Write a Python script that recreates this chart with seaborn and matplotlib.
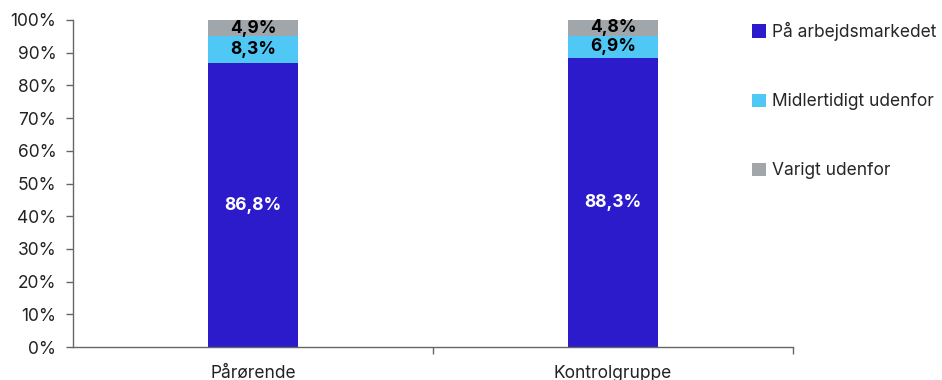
import matplotlib
matplotlib.use("Agg")
import matplotlib.pyplot as plt
import seaborn as sns
import numpy as np
import pandas as pd
from matplotlib.patches import Patch
from matplotlib.ticker import FixedLocator, PercentFormatter

categories = ["Pårørende", "Kontrolgruppe"]
series_names = ["På arbejdsmarkedet", "Midlertidigt udenfor", "Varigt udenfor"]
paa = [86.8, 88.3]
midl = [8.3, 6.9]
varigt = [4.9, 4.8]
colors = ["#2B1BCB", "#4FC8F5", "#A0A6A9"]
label_colors = ["white", "black", "black"]

sns.set_theme(style="white")
plt.rcParams['font.family'] = ['Inter', 'DejaVu Sans']

fig = plt.figure(figsize=(9.42, 3.8), dpi=100)
ax = fig.add_axes([73/942, 1-347/380, (793-73)/942, (347-20)/380])

series = [paa, midl, varigt]
cum = np.cumsum(np.array(series), axis=0)
# draw from top total down so lower segments overlay
for i in reversed(range(3)):
    df = pd.DataFrame({"cat": categories, "val": cum[i]})
    sns.barplot(data=df, x="cat", y="val", color=colors[i], width=0.25,
                saturation=1, ax=ax, edgecolor="none", linewidth=0)

for j in range(len(categories)):
    for i in range(3):
        bottom = cum[i][j] - series[i][j]
        mid = bottom + series[i][j] / 2
        ax.text(j, mid, f"{series[i][j]:.1f}%".replace(".", ","),
                ha="center", va="center", fontsize=12.5, fontweight="bold",
                color=label_colors[i])

ax.set_xlim(-0.5, 1.5)
ax.set_ylim(0, 100)
ax.set_xlabel("")
ax.set_ylabel("")
ax.yaxis.set_major_locator(FixedLocator(np.arange(0, 101, 10)))
ax.yaxis.set_major_formatter(PercentFormatter(decimals=0))
ax.xaxis.set_minor_locator(FixedLocator([0.5, 1.5]))
ax.tick_params(axis="x", which="major", length=0, pad=13, labelsize=12.5, colors="#222222")
ax.tick_params(axis="x", which="minor", length=5, width=1, color="#666666", direction="out", bottom=True)
ax.tick_params(axis="y", which="major", length=5, width=1, color="#666666", direction="out",
               left=True, labelsize=12.5, labelcolor="#222222", pad=7)
for s in ["top", "right"]:
    ax.spines[s].set_visible(False)
for s in ["left", "bottom"]:
    ax.spines[s].set_color("#666666")
    ax.spines[s].set_linewidth(1)

handles = [Patch(facecolor=c, edgecolor="none") for c in colors]
fig.legend(handles, series_names, loc="upper left", bbox_to_anchor=(752/942, 1-22/380),
           frameon=False, fontsize=12.5, handlelength=0.8, handleheight=0.8,
           handletextpad=0.35, labelspacing=3.0, borderaxespad=0, borderpad=0)

fig.savefig("out.png", dpi=100)
